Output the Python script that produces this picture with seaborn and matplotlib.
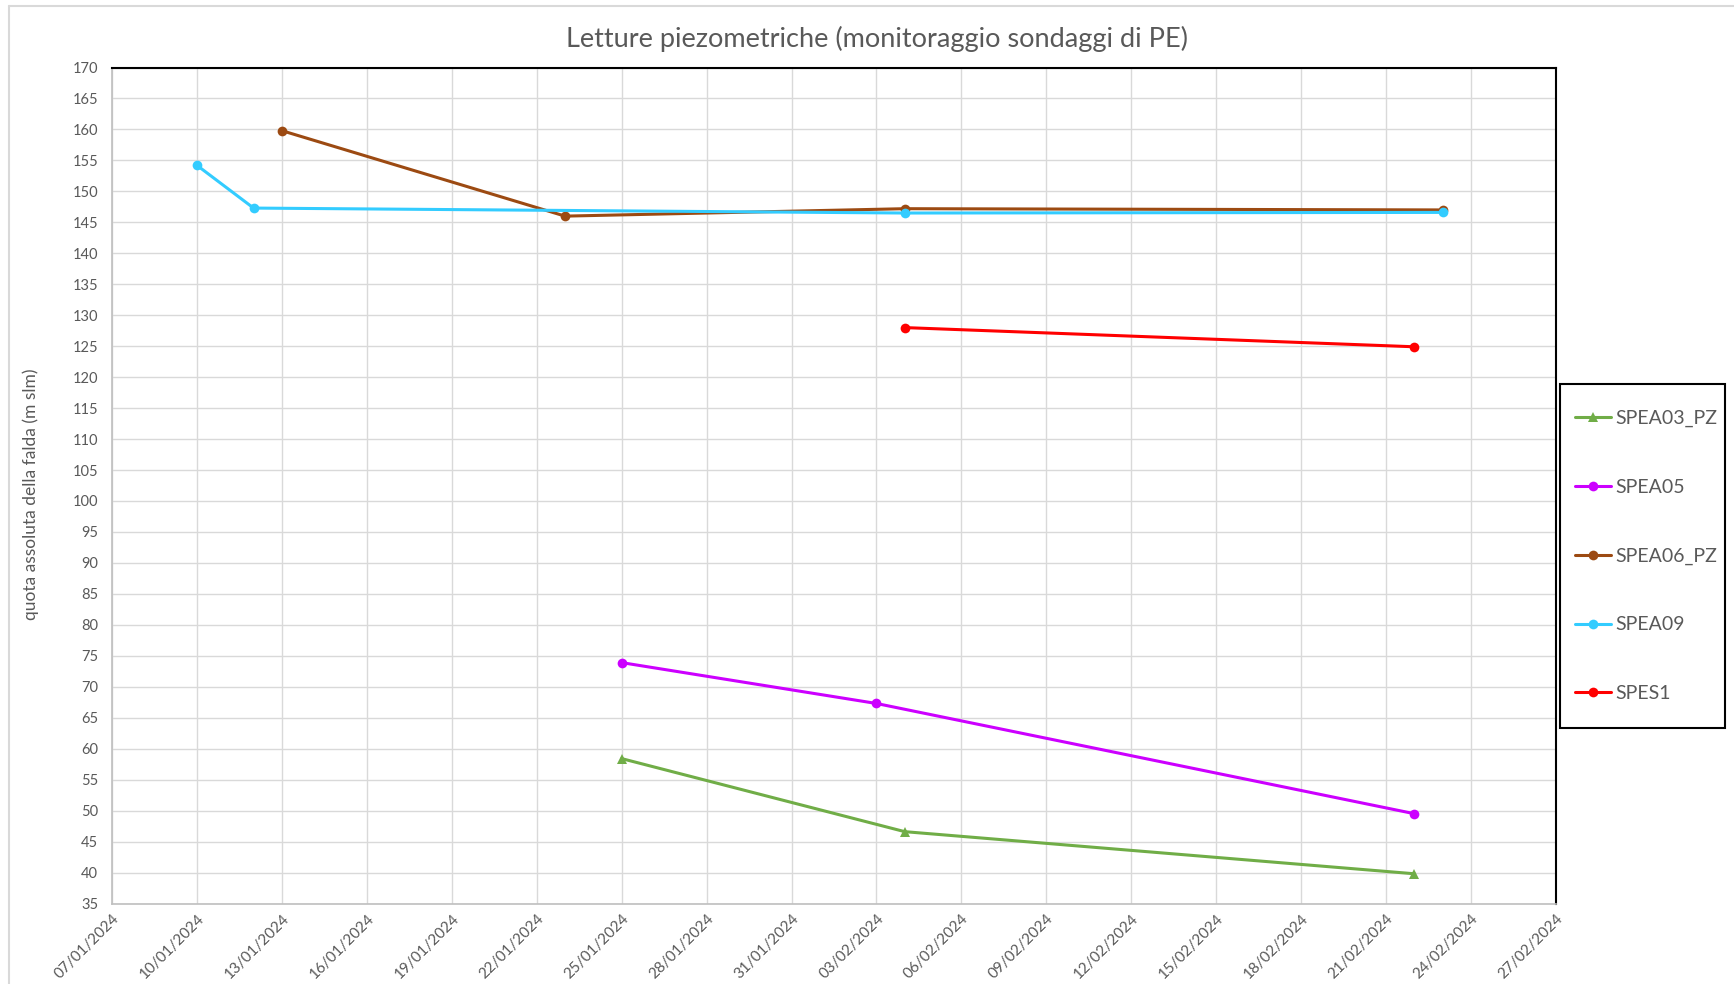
import pandas as pd
import matplotlib.pyplot as plt
import matplotlib.dates as mdates
from matplotlib.lines import Line2D
from matplotlib.patches import Rectangle
import seaborn as sns

# Letture piezometriche
spea03_dates = ['2024-01-25', '2024-02-04', '2024-02-22']
spea03_vals = [58.4, 46.6, 39.8]

spea05_dates = ['2024-01-25', '2024-02-03', '2024-02-22']
spea05_vals = [73.9, 67.3, 49.5]

spea06_dates = ['2024-01-13', '2024-01-23', '2024-02-04', '2024-02-23']
spea06_vals = [159.8, 146.0, 147.2, 147.0]

spea09_dates = ['2024-01-10', '2024-01-12', '2024-02-04', '2024-02-23']
spea09_vals = [154.2, 147.3, 146.5, 146.6]

spes1_dates = ['2024-02-04', '2024-02-22']
spes1_vals = [128.0, 124.9]

series_names = ['SPEA03_PZ', 'SPEA05', 'SPEA06_PZ', 'SPEA09', 'SPES1']
series_colors = ['#70AD47', '#CC00FF', '#9C4A12', '#33CCFF', '#FF0000']
series_markers = ['^', 'o', 'o', 'o', 'o']

rows = []
for name, dates, vals in zip(series_names,
                             [spea03_dates, spea05_dates, spea06_dates, spea09_dates, spes1_dates],
                             [spea03_vals, spea05_vals, spea06_vals, spea09_vals, spes1_vals]):
    for d, v in zip(dates, vals):
        rows.append({'sonda': name, 'data': pd.Timestamp(d), 'quota': v})
df = pd.DataFrame(rows)

sns.set_style('white')
plt.rcParams['font.family'] = ['Lato', 'DejaVu Sans']
text_color = '#595959'

fig = plt.figure(figsize=(17.34, 9.84), dpi=100)
ax = fig.add_axes([112 / 1734, 1 - 903.5 / 984, (1556 - 112) / 1734, (903.5 - 67.5) / 984])

sns.lineplot(
    data=df, x='data', y='quota',
    hue='sonda', style='sonda',
    hue_order=series_names, style_order=series_names,
    palette=dict(zip(series_names, series_colors)),
    markers=dict(zip(series_names, series_markers)),
    dashes=False, linewidth=2.2, markersize=7, markeredgewidth=0,
    ax=ax, legend=True,
)

# Assi
ax.set_ylim(35, 170)
ax.set_yticks(range(35, 171, 5))
ax.set_xlim(pd.Timestamp('2024-01-07'), pd.Timestamp('2024-02-27'))
ax.set_xticks(pd.date_range('2024-01-07', '2024-02-27', freq='3D'))
ax.xaxis.set_major_formatter(mdates.DateFormatter('%d/%m/%Y'))
ax.grid(True, color='#d9d9d9', linewidth=1.0)
ax.set_axisbelow(True)
ax.tick_params(length=0, colors=text_color)
ax.tick_params(axis='y', labelsize=10.5, pad=10)
ax.tick_params(axis='x', labelsize=11, pad=6)
for lbl in ax.get_xticklabels():
    lbl.set_rotation(45)
    lbl.set_ha('right')
    lbl.set_rotation_mode('anchor')

for side in ['top', 'right']:
    ax.spines[side].set_color('black')
    ax.spines[side].set_linewidth(1.5)
for side in ['left', 'bottom']:
    ax.spines[side].set_color('#bfbfbf')
    ax.spines[side].set_linewidth(1.2)

ax.set_xlabel('')
ax.set_ylabel('quota assoluta della falda (m slm)', fontsize=12.5, color=text_color)
ax.yaxis.set_label_coords(-0.0506, 0.49)

# Legenda (cornice disegnata a parte)
handles, labels = ax.get_legend_handles_labels()
ax.get_legend().remove()
fig.add_artist(Rectangle((1560 / 1734, 1 - 728 / 984), 165 / 1734, 344 / 984,
                         transform=fig.transFigure, fill=False,
                         edgecolor='black', linewidth=1.5))
leg = fig.legend(
    handles, labels,
    loc='center left', bbox_to_anchor=(1575 / 1734, 1 - 556 / 984),
    borderaxespad=0, borderpad=0, frameon=False,
    fontsize=14, labelspacing=2.66,
    handlelength=1.85, handletextpad=0.2, labelcolor=text_color,
)

# Titolo
fig.text(0.506, 1 - 39 / 984, 'Letture piezometriche (monitoraggio sondaggi di PE)',
         ha='center', va='center', fontsize=19.5, color=text_color)

# Bordo dell'area del grafico
fig.add_artist(Line2D([9 / 1734, 9 / 1734], [0, 1 - 6 / 984], color='#d9d9d9', linewidth=1.5))
fig.add_artist(Line2D([9 / 1734, 1], [1 - 6 / 984, 1 - 6 / 984], color='#d9d9d9', linewidth=1.5))

fig.savefig('out.png', dpi=100)
